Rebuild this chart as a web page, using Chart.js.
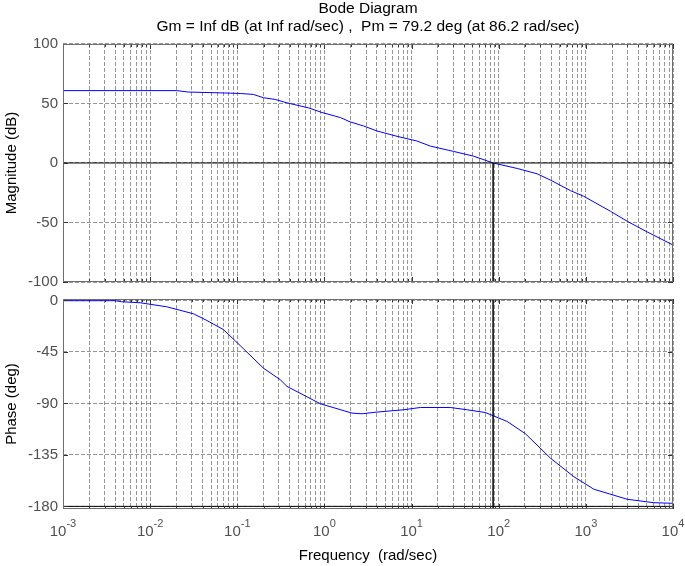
<!DOCTYPE html>
<html>
<head>
<meta charset="utf-8">
<title>Bode Diagram</title>
<script src="https://cdn.jsdelivr.net/npm/chart.js"></script>
<style>
	html, body { margin: 0; padding: 0; background: #fff; }
	#wrap { position: relative; width: 685px; height: 566px; overflow: hidden; }
	#magChart { position: absolute; left: 0; top: 0; }
	#phaseChart { position: absolute; left: 0; top: 285px; }
</style>
</head>
<body>
<div id="wrap">
	<canvas id="magChart" width="685" height="296"></canvas>
	<canvas id="phaseChart" width="685" height="281"></canvas>
</div>
<script>
(function(){
	"use strict";

	// frequency decades shown on the x axis (10^-3 .. 10^4)
	var decades = [-3, -2, -1, 0, 1, 2, 3, 4];

	// magnitude curve (rad/sec, dB)
	var magFreq = [0.001, 0.0202, 0.0273, 0.072, 0.108, 0.153, 0.2, 0.272, 0.372, 0.658, 0.938, 1.52, 1.98, 2.81, 4.01, 6.81, 11.6, 16.4, 30.4, 51.6, 86.2, 163, 276, 393, 665, 946, 1920, 2990, 5070, 10000];
	var magDb   = [60.8, 60.8, 59.6, 58.8, 58.4, 57.6, 54.8, 53.4, 50.5, 46.3, 42.4, 38.2, 34.5, 31.1, 26.9, 22.4, 18.4, 14.2, 9.7, 5.7, 0, -4.6, -9.1, -14.4, -23.2, -28.0, -40.6, -49.0, -58.0, -68.9];

	// phase curve (rad/sec, deg)
	var phaseFreq = [0.001, 0.004, 0.0047, 0.0077, 0.0155, 0.0314, 0.0448, 0.0693, 0.108, 0.2, 0.311, 0.372, 0.895, 2.07, 2.7, 4.01, 8.11, 12.6, 27.9, 43.4, 70.3, 86.2, 125, 203, 393, 726, 1233, 2985, 6030, 10000];
	var phaseDeg  = [-0.3, -0.3, -1.2, -2.1, -5.6, -11.7, -17.6, -25.5, -39.5, -59.3, -69.3, -75.2, -90.3, -98.5, -99.1, -97.6, -95.6, -93.6, -93.6, -95.6, -98.0, -100.8, -105.8, -116.6, -137.9, -154.0, -165.0, -173.8, -176.8, -177.3];

	// margins
	var pmFreq = 86.2;
	var magTicks = [-100, -50, 0, 50, 100];
	var phaseTicks = [-180, -135, -90, -45, 0];
	var phaseRange = [-182.3, 1.2];

	var fontFamily = "'Liberation Sans', Arial, Helvetica, sans-serif";
	Chart.defaults.font.family = fontFamily;
	Chart.defaults.font.size = 15;
	Chart.defaults.animation = false;

	var xMin = Math.pow(10, decades[0]);
	var xMax = Math.pow(10, decades[decades.length - 1]);

	function toPoints(xs, ys) {
		return xs.map(function (x, i) { return { x: x, y: ys[i] }; });
	}

	function isDecade(v) {
		var l = Math.log10(v);
		return Math.abs(l - Math.round(l)) < 1e-9;
	}

	function logTicks() {
		var t = [];
		for (var i = 0; i < decades.length - 1; i++) {
			for (var k = 1; k < 10; k++) {
				t.push({ value: k * Math.pow(10, decades[i]) });
			}
		}
		t.push({ value: xMax });
		return t;
	}

	var gridColor = 'rgba(80,80,80,0.6)';

	// box, small tick marks and 10^n labels
	var bodeFrame = {
		id: 'bodeFrame',
		afterDatasetsDraw: function (chart, args, opts) {
			var ctx = chart.ctx, a = chart.chartArea;
			var xs = chart.scales.x, ys = chart.scales.y;
			ctx.save();
			ctx.lineWidth = 1;
			ctx.strokeStyle = '#333';
			ctx.beginPath();
			xs.ticks.forEach(function (t) {
				var px = Math.round(xs.getPixelForValue(t.value)) + 0.5;
				var len = isDecade(t.value) ? 5 : 3;
				ctx.moveTo(px, a.bottom); ctx.lineTo(px, a.bottom - len);
				ctx.moveTo(px, a.top); ctx.lineTo(px, a.top + len);
			});
			ys.ticks.forEach(function (t) {
				var py = Math.round(ys.getPixelForValue(t.value)) + 0.5;
				ctx.moveTo(a.left, py); ctx.lineTo(a.left + 5, py);
				ctx.moveTo(a.right, py); ctx.lineTo(a.right - 5, py);
			});
			ctx.stroke();

			ctx.strokeStyle = '#6e6e6e';
			ctx.strokeRect(a.left + 0.5, a.top + 0.5, a.right - a.left - 1, a.bottom - a.top - 1);

			if (opts.xLabels) {
				ctx.fillStyle = '#505050';
				ctx.textAlign = 'left';
				ctx.textBaseline = 'alphabetic';
				decades.forEach(function (d) {
					var px = xs.getPixelForValue(Math.pow(10, d));
					ctx.font = '15px ' + fontFamily;
					var w1 = ctx.measureText('10').width;
					ctx.font = '11px ' + fontFamily;
					var w2 = ctx.measureText(String(d)).width;
					var x0 = px - (w1 + w2) / 2;
					ctx.font = '15px ' + fontFamily;
					ctx.fillText('10', x0, a.bottom + opts.labelBase);
					ctx.font = '11px ' + fontFamily;
					ctx.fillText(String(d), x0 + w1, a.bottom + opts.labelBase - 9);
				});
			}
			ctx.restore();
		}
	};

	function xScale(height, title) {
		return {
			type: 'logarithmic',
			min: xMin,
			max: xMax,
			afterBuildTicks: function (scale) { scale.ticks = logTicks(); },
			afterFit: function (scale) { scale.height = height; },
			ticks: { display: false, autoSkip: false },
			grid: { color: gridColor, drawTicks: false },
			border: { display: false, dash: [4, 2] },
			title: title ? { display: true, text: title, color: '#000', font: { size: 15 }, padding: { top: 0, bottom: 1 } } : { display: false }
		};
	}

	function yScale(min, max, ticks, title) {
		return {
			type: 'linear',
			min: min,
			max: max,
			afterBuildTicks: function (scale) { scale.ticks = ticks.map(function (v) { return { value: v }; }); },
			afterFit: function (scale) { scale.width = 63; },
			ticks: { color: '#505050', padding: 5, font: { size: 15 }, callback: function (v) { return String(v); } },
			grid: { color: gridColor, drawTicks: false },
			border: { display: false, dash: [4, 2] },
			title: { display: true, text: title, color: '#000', font: { size: 15 }, padding: { top: 3, bottom: 0 } }
		};
	}

	function line(data, color, width) {
		return {
			data: data,
			borderColor: color,
			borderWidth: width,
			pointRadius: 0,
			tension: 0,
			fill: false
		};
	}

	new Chart(document.getElementById('magChart').getContext('2d'), {
		type: 'line',
		data: {
			datasets: [
				line([{ x: xMin, y: 0 }, { x: xMax, y: 0 }], '#000', 1),
				line([{ x: pmFreq, y: 0 }, { x: pmFreq, y: magTicks[0] }], '#000', 1.5),
				line(toPoints(magFreq, magDb), '#0000ff', 1)
			]
		},
		options: {
			responsive: false,
			layout: { padding: { top: 0, right: 12, bottom: 0, left: 0 } },
			scales: {
				x: xScale(9, null),
				y: yScale(magTicks[0], magTicks[magTicks.length - 1], magTicks, 'Magnitude (dB)')
			},
			plugins: {
				legend: { display: false },
				tooltip: { enabled: false },
				title: {
					display: true,
					fullSize: false,
					text: ['Bode Diagram', 'Gm = Inf dB (at Inf rad/sec) ,  Pm = 79.2 deg (at 86.2 rad/sec)'],
					color: '#000',
					font: { size: 15.5, weight: 'normal', lineHeight: 1.16 },
					padding: { top: 0, bottom: 8 }
				},
				bodeFrame: { xLabels: false }
			}
		},
		plugins: [bodeFrame]
	});

	new Chart(document.getElementById('phaseChart').getContext('2d'), {
		type: 'line',
		data: {
			datasets: [
				line([{ x: xMin, y: -180 }, { x: xMax, y: -180 }], '#000', 1),
				line([{ x: pmFreq, y: phaseRange[1] }, { x: pmFreq, y: phaseRange[0] }], '#000', 1.5),
				line(toPoints(phaseFreq, phaseDeg), '#0000ff', 1)
			]
		},
		options: {
			responsive: false,
			layout: { padding: { top: 0, right: 12, bottom: 0, left: 0 } },
			scales: {
				x: xScale(57, 'Frequency  (rad/sec)'),
				y: yScale(phaseRange[0], phaseRange[1], phaseTicks, 'Phase (deg)')
			},
			plugins: {
				legend: { display: false },
				tooltip: { enabled: false },
				title: { display: false },
				bodeFrame: { xLabels: true, labelBase: 27 }
			}
		},
		plugins: [bodeFrame]
	});
})();
</script>
</body>
</html>
